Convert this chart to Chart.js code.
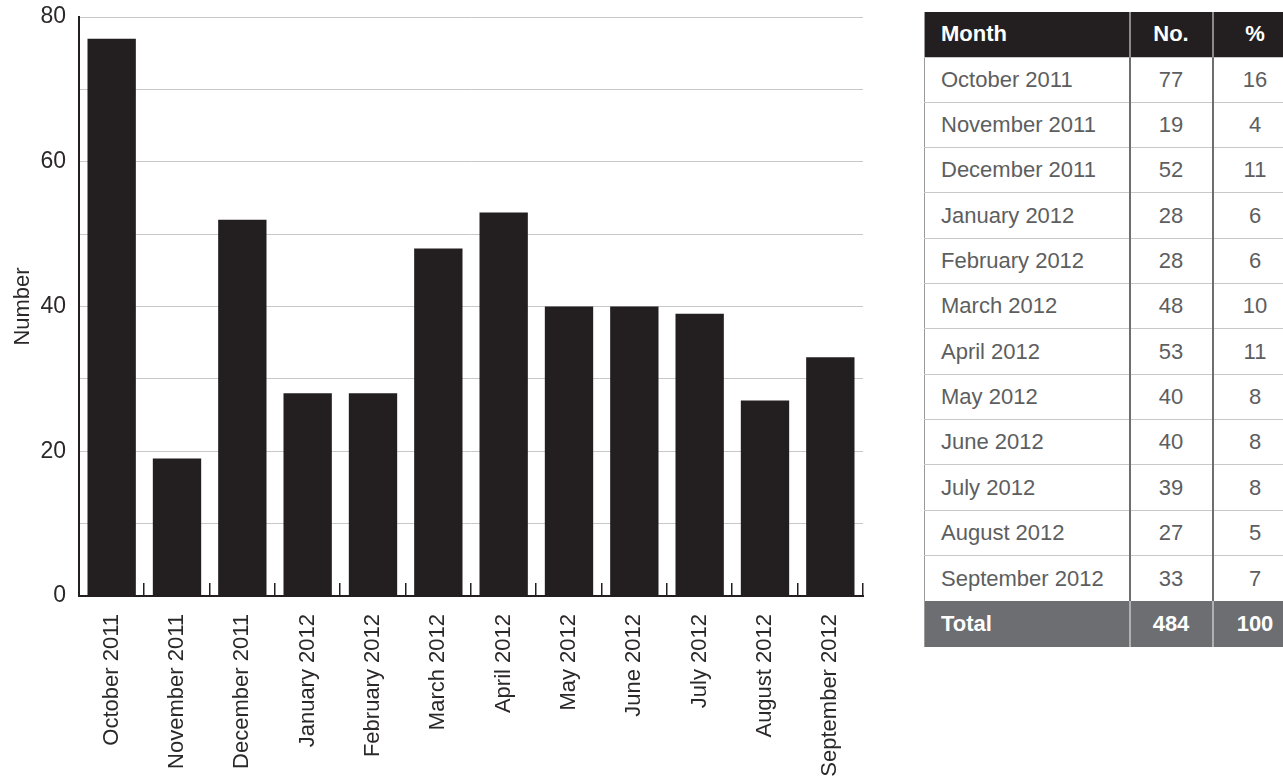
<!DOCTYPE html>
<html>
<head>
<meta charset="utf-8">
<title>Monthly numbers</title>
<script src="https://cdn.jsdelivr.net/npm/chart.js@4/dist/chart.umd.min.js"></script>
<style>
  html, body { margin: 0; padding: 0; background: #fff; overflow: hidden; }
  body { position: relative; width: 1283px; height: 782px; font-family: "Liberation Sans", Arial, sans-serif; }
  #chart { position: absolute; left: 0; top: 0; }
  #tbl {
    position: absolute; left: 924px; top: 12px;
    border-collapse: collapse; table-layout: fixed; width: 372px;
    font-size: 22px; color: #5d5e60;
    border-left: 1px solid #9a9a9a;
  }
  #tbl th, #tbl td { padding: 0; text-align: center; box-sizing: border-box; }
  #tbl th { height: 45px; background: #231f20; color: #fff; font-weight: bold; border-left: 2px solid #8a8a8a; }
  #tbl td { height: 45.33px; border-left: 2px solid #6d6e71; border-top: 1px solid #c8c8c8; }
  #tbl .m { text-align: left; padding-left: 16px; border-left: none; }
  #tbl tr.total td { background: #6d6e71; color: #fff; font-weight: bold; border-top: none; border-left-color: #b0b0b0; height: 46px; }
  #tbl tr.total td.m { border-left: none; }
</style>
</head>
<body>
<canvas id="chart" width="880" height="782"></canvas>
<table id="tbl">
  <colgroup><col style="width:205px"><col style="width:83px"><col style="width:84px"></colgroup>
</table>
<script>
const months = ['October 2011', 'November 2011', 'December 2011', 'January 2012', 'February 2012',
  'March 2012', 'April 2012', 'May 2012', 'June 2012', 'July 2012', 'August 2012', 'September 2012'];
const counts = [77, 19, 52, 28, 28, 48, 53, 40, 40, 39, 27, 33];
const percents = [16, 4, 11, 6, 6, 10, 11, 8, 8, 8, 5, 7];
const totalCount = 484;
const totalPercent = 100;
const headers = ['Month', 'No.', '%'];

// table on the right
const tbl = document.getElementById('tbl');
let html = '<tr><th class="m">' + headers[0] + '</th><th>' + headers[1] + '</th><th>' + headers[2] + '</th></tr>';
months.forEach((m, i) => {
  html += '<tr><td class="m">' + m + '</td><td>' + counts[i] + '</td><td>' + percents[i] + '</td></tr>';
});
html += '<tr class="total"><td class="m">Total</td><td>' + totalCount + '</td><td>' + totalPercent + '</td></tr>';
tbl.insertAdjacentHTML('beforeend', html);

// small upward ticks between the bars
const boundaryTicks = {
  id: 'boundaryTicks',
  afterDraw(chart) {
    const x = chart.scales.x;
    const ctx = chart.ctx;
    const n = months.length;
    ctx.save();
    ctx.strokeStyle = '#231f20';
    ctx.lineWidth = 1.5;
    for (let i = 1; i <= n; i++) {
      const px = Math.round(x.left + i * x.width / n) - 0.25;
      ctx.beginPath();
      ctx.moveTo(px, x.top + 1);
      ctx.lineTo(px, x.top - 13);
      ctx.stroke();
    }
    ctx.restore();
  }
};

const font = { family: '"Liberation Sans", Arial, sans-serif', size: 22 };

new Chart(document.getElementById('chart'), {
  type: 'bar',
  data: {
    labels: months,
    datasets: [{
      data: counts,
      backgroundColor: '#231f20',
      borderWidth: 0,
      barPercentage: 0.74,
      categoryPercentage: 1
    }]
  },
  options: {
    responsive: false,
    animation: false,
    devicePixelRatio: 1,
    layout: { padding: { top: 17, right: 17, left: 0, bottom: 0 } },
    plugins: { legend: { display: false }, tooltip: { enabled: false } },
    scales: {
      x: {
        grid: { display: false, drawTicks: false },
        border: { display: true, color: '#231f20', width: 2 },
        ticks: { font, color: '#2b2829', maxRotation: 90, minRotation: 90, padding: 18, autoSkip: false },
        afterFit(scale) {
          scale.height = 186;
          scale.paddingLeft = 0;
          scale.paddingRight = 0;
        }
      },
      y: {
        min: 0,
        max: 80,
        grid: { color: '#c8c8c8', lineWidth: 1, drawTicks: false },
        border: { display: true, color: '#231f20', width: 2 },
        ticks: {
          stepSize: 10,
          font: { family: font.family, size: 23 },
          color: '#2b2829',
          padding: 13,
          callback: v => (v % 20 === 0 ? v : '')
        },
        title: { display: true, text: 'Number', font, color: '#2b2829', padding: { top: 10, bottom: 0 } },
        afterFit(scale) {
          scale.width = 79;
          scale.paddingTop = 0;
          scale.paddingBottom = 0;
        }
      }
    }
  },
  plugins: [boundaryTicks]
});
</script>
</body>
</html>
